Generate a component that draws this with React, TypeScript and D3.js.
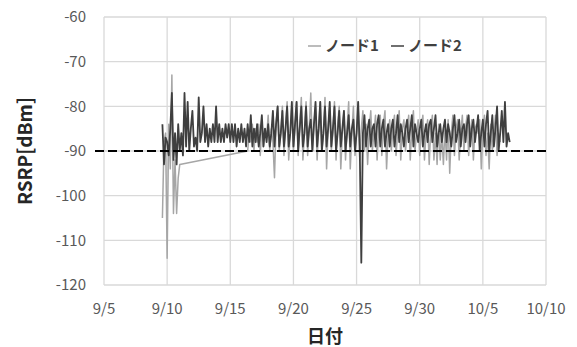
import React, { useEffect, useRef } from 'react';
import * as d3 from 'd3';

// 3-hour samples
const node2Start = new Date(2019, 8, 9, 15);
const node2Values = [
  -84, -93, -87,
  -88, -91, -85, -77, -92, -86, -93, -84,
  -90, -86, -91, -77, -89, -79, -90, -85,
  -81, -89, -87, -90, -78, -88, -86, -80,
  -88, -84, -89, -85, -88, -84, -88, -80,
  -88, -84, -88, -85, -88, -84, -87, -84,
  -88, -84, -88, -84, -89, -85, -88, -84,
  -88, -85, -89, -84, -88, -82, -89, -85,
  -88, -84, -89, -86, -82, -89, -85, -88,
  -84, -89, -86, -81, -89, -84, -80, -89,
  -86, -81, -89, -85, -80, -89, -86, -79,
  -89, -84, -79, -90, -85, -80, -89, -86,
  -80, -89, -85, -83, -90, -84, -79, -89,
  -85, -79, -90, -86, -80, -89, -85, -79,
  -89, -85, -80, -90, -86, -81, -89, -85,
  -81, -90, -86, -82, -89, -85, -83, -90,
  -86, -79, -89, -115, -86, -82, -89, -85,
  -83, -89, -85, -84, -89, -84, -82, -89,
  -85, -83, -89, -86, -84, -89, -85, -83,
  -89, -86, -82, -88, -84, -86, -89, -85,
  -83, -88, -85, -82, -89, -84, -86, -88,
  -85, -83, -89, -86, -84, -88, -84, -83,
  -88, -85, -82, -89, -86, -84, -88, -85,
  -83, -88, -84, -86, -89, -85, -82, -88,
  -86, -83, -89, -85, -84, -88, -84, -82,
  -89, -85, -83, -88, -85, -82, -90, -86,
  -83, -89, -84, -81, -90, -86, -82, -89,
  -85, -80, -90, -86, -81, -88, -79, -89,
  -86, -88,
];

const node1StartA = new Date(2019, 8, 9, 15);
const node1ValuesA = [
  -105, -88, -86,
  -114, -84, -94, -73, -104, -92, -104, -96,
  -93,
];
const node1StartB = new Date(2019, 8, 16, 9);
const node1ValuesB = [
  -90, -86, -88, -84, -90,
  -85, -88, -84, -91, -83, -89, -85, -87,
  -82, -90, -85, -88, -96, -84, -80, -90,
  -86, -80, -91, -85, -79, -92, -86, -80,
  -90, -85, -79, -91, -84, -78, -92, -86,
  -79, -91, -85, -77, -90, -84, -80, -92,
  -85, -79, -90, -86, -78, -94, -85, -80,
  -90, -86, -79, -92, -84, -80, -94, -86,
  -81, -92, -85, -79, -94, -86, -80, -91,
  -86, -80, -92, -85, -81, -90, -84, -93,
  -85, -81, -90, -86, -82, -92, -85, -82,
  -91, -84, -81, -94, -86, -83, -90, -85,
  -82, -91, -86, -81, -92, -85, -83, -90,
  -86, -82, -92, -85, -81, -90, -86, -83,
  -91, -85, -82, -92, -86, -83, -93, -85,
  -82, -92, -86, -93, -84, -92, -86, -93,
  -85, -92, -83, -95, -86, -82, -91, -85,
  -83, -92, -86, -82, -90, -85, -82, -91,
  -86, -83, -92, -85, -84, -86, -83, -94,
  -85, -82, -91, -86, -94, -84, -90, -86,
  -82, -91, -86, -88,
];

const yTicks = [-120, -110, -100, -90, -80, -70, -60];
const xTickLabels = ['9/5', '9/10', '9/15', '9/20', '9/25', '9/30', '10/5', '10/10'];
const xTickDates = [
  new Date(2019, 8, 5), new Date(2019, 8, 10), new Date(2019, 8, 15), new Date(2019, 8, 20),
  new Date(2019, 8, 25), new Date(2019, 8, 30), new Date(2019, 9, 5), new Date(2019, 9, 10),
];
const seriesNames = ['ノード1', 'ノード2'];
const threshold = -90;

const STEP = 3 * 3600 * 1000;
const toPoints = (start: Date, vals: number[]) =>
  vals.map((v, i) => ({ t: new Date(start.getTime() + i * STEP), v }));

export default function App() {
  const ref = useRef<SVGSVGElement>(null);

  useEffect(() => {
    const W = 577, H = 347;
    const m = { top: 17, right: 31, bottom: 62, left: 104 };
    const svg = d3.select(ref.current).attr('width', W).attr('height', H);
    svg.selectAll('*').remove();
    const font = "'Noto Sans CJK JP', 'Noto Sans', sans-serif";

    const x = d3.scaleTime()
      .domain([xTickDates[0], xTickDates[xTickDates.length - 1]])
      .range([m.left, W - m.right]);
    const y = d3.scaleLinear().domain([-120, -60]).range([H - m.bottom, m.top]);

    const grid = svg.append('g').attr('stroke', '#d9d9d9').attr('stroke-width', 1.3);
    grid.selectAll('.h').data(yTicks).join('line')
      .attr('x1', m.left).attr('x2', W - m.right)
      .attr('y1', (d) => y(d)).attr('y2', (d) => y(d));
    grid.selectAll('.v').data(xTickDates).join('line')
      .attr('y1', m.top).attr('y2', H - m.bottom)
      .attr('x1', (d) => x(d)).attr('x2', (d) => x(d));

    svg.append('g').selectAll('text').data(yTicks).join('text')
      .attr('x', 86).attr('y', (d) => y(d)).attr('dy', '0.35em')
      .attr('text-anchor', 'end').attr('font-family', font).attr('font-size', 15)
      .attr('fill', '#595959').text((d) => d);

    svg.append('g').selectAll('text').data(xTickDates).join('text')
      .attr('x', (d) => x(d)).attr('y', 314)
      .attr('text-anchor', 'middle').attr('font-family', font).attr('font-size', 15)
      .attr('fill', '#595959').text((_, i) => xTickLabels[i]);

    const line = d3.line<{ t: Date; v: number }>().x((d) => x(d.t)).y((d) => y(d.v));
    const node1 = [...toPoints(node1StartA, node1ValuesA), ...toPoints(node1StartB, node1ValuesB)];
    const node2 = toPoints(node2Start, node2Values);

    svg.append('path').datum(node1).attr('d', line).attr('fill', 'none')
      .attr('stroke', '#a6a6a6').attr('stroke-width', 1.5).attr('stroke-linejoin', 'round');
    svg.append('path').datum(node2).attr('d', line).attr('fill', 'none')
      .attr('stroke', '#3f3f3f').attr('stroke-width', 1.8).attr('stroke-linejoin', 'round');

    svg.append('line')
      .attr('x1', 95).attr('x2', 548).attr('y1', y(threshold)).attr('y2', y(threshold))
      .attr('stroke', '#000').attr('stroke-width', 2).attr('stroke-dasharray', '9,4');

    svg.append('text')
      .attr('transform', `translate(32, ${y(-90)}) rotate(-90)`)
      .attr('text-anchor', 'middle').attr('font-family', font).attr('font-size', 19)
      .attr('font-weight', 'bold').attr('fill', '#262626').text('RSRP[dBm]');
    svg.append('text')
      .attr('x', 325).attr('y', 343).attr('text-anchor', 'middle')
      .attr('font-family', font).attr('font-size', 18).attr('font-weight', 'bold')
      .attr('fill', '#262626').text('日付');

    const legendColors = ['#a6a6a6', '#404040'];
    const lx = [308, 391];
    seriesNames.forEach((name, i) => {
      svg.append('line').attr('x1', lx[i]).attr('x2', lx[i] + 13)
        .attr('y1', 46).attr('y2', 46).attr('stroke', legendColors[i]).attr('stroke-width', 1.5);
      svg.append('text').attr('x', lx[i] + 17).attr('y', 46).attr('dy', '0.35em')
        .attr('font-family', font).attr('font-size', 15).attr('font-weight', 'bold')
        .attr('fill', '#404040').text(name);
    });
  }, []);

  return <svg ref={ref} style={{ position: 'absolute', left: 0, top: 0 }} />;
}
